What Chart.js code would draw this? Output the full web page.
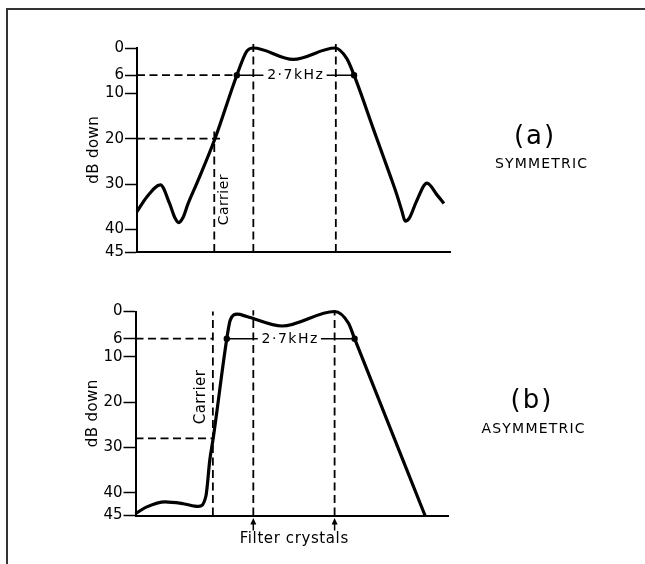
<!DOCTYPE html>
<html>
<head>
<meta charset="utf-8">
<script src="https://cdn.jsdelivr.net/npm/chart.js@4.4.0/dist/chart.umd.min.js"></script>
<style>
    html, body { margin: 0; padding: 0; background: #fff; }
    body { width: 645px; height: 564px; position: relative; overflow: hidden; }
    #frame { position: absolute; left: 6px; top: 8px; width: 700px; height: 600px; border-left: 2px solid #333; border-top: 2px solid #333; }
    canvas { position: absolute; left: 0; }
    #symmetric { top: 0; }
    #asymmetric { top: 263px; }
</style>
</head>
<body>
<div id="frame"></div>
<canvas id="symmetric" width="645" height="263"></canvas>
<canvas id="asymmetric" width="645" height="301"></canvas>
<script>
// attenuation axis, dB below the passband peak
var dbTicks = [0, 6, 10, 20, 30, 40, 45]

// (a) symmetric response, frequency in kHz from the left edge of the plot
var symFreq = [0, 0.23, 0.54, 0.75, 0.87, 0.96, 1.06, 1.17, 1.38, 1.80, 2.30, 2.53, 2.68, 3.60, 4.56, 4.83, 5.00, 5.45, 5.83, 6.00, 6.10, 6.18, 6.28, 6.43, 6.68, 6.91, 7.07]
var symLoss = [36.1, 32.8, 30.2, 34.3, 37.4, 38.5, 37.4, 34.5, 29.8, 19.9, 6, 0.7, 0, 2.5, 0, 2.3, 6, 18.0, 28.1, 32.8, 35.9, 38.2, 37.4, 34.0, 29.8, 32.4, 34.3]
var symCarrier = 1.78
var symCarrierLevel = [20, 1.96]     // dB, end of the dashed guide
var symCarrierTop = 18
var symCrystals = [2.68, 4.58]
var symSixDb = [2.30, 5.00]

// (b) asymmetric response
var asymFreq = [0, 0.26, 0.68, 1.10, 1.45, 1.62, 1.71, 1.79, 2.10, 2.18, 2.34, 2.56, 3.37, 4.58, 4.90, 5.04, 6.66]
var asymLoss = [44.6, 43.1, 42.0, 42.4, 43.0, 40.7, 32.7, 27.8, 6, 1.9, 0.6, 1.1, 3.2, 0, 2.6, 6, 45]
var asymCarrier = 1.78
var asymCarrierLevel = [28, 1.78]
var asymCarrierTop = 0
var asymCrystals = [2.71, 4.58]
var asymSixDb = [2.10, 5.04]

var FONT = 'DejaVu Sans'

function pts(xs, ys) {
    return xs.map(function(x, i) { return { x: x, y: ys[i] } })
}

function seg(x1, y1, x2, y2) {
    return [{ x: x1, y: y1 }, { x: x2, y: y2 }]
}

function dashed(data) {
    return {
        data: data, borderColor: '#000', borderWidth: 1.8, borderDash: [8, 4.5],
        pointRadius: 0, clip: false, tension: 0, order: 3
    }
}

function curve(data) {
    return {
        data: data, borderColor: '#000', borderWidth: 3.2, pointRadius: 0,
        cubicInterpolationMode: 'monotone', clip: false, order: 0
    }
}

function bandwidth(data) {
    return {
        data: data, borderColor: '#000', borderWidth: 1.6, pointRadius: 3.2,
        pointBackgroundColor: '#000', pointBorderWidth: 0, clip: false, order: 1
    }
}

function spaced(ctx, text, x, y, spacing) {
    ctx.letterSpacing = spacing + 'px'
    ctx.fillText(text, x + spacing / 2, y)
    ctx.letterSpacing = '0px'
}

// labels, arrows and the gap in the 6 dB line
var notes = {
    id: 'notes',
    afterDatasetsDraw: function(chart, args, o) {
        var ctx = chart.ctx, sx = chart.scales.x, sy = chart.scales.y, area = chart.chartArea
        ctx.save()
        ctx.fillStyle = '#000'
        ctx.strokeStyle = '#000'
        ctx.textAlign = 'center'
        ctx.textBaseline = 'middle'

        // 2.7 kHz bandwidth label
        var bx = sx.getPixelForValue(o.bandwidthAt.x), by = sy.getPixelForValue(o.bandwidthAt.y)
        ctx.font = '14px "' + FONT + '"'
        ctx.letterSpacing = '1.5px'
        var w = ctx.measureText('2·7kHz').width
        ctx.letterSpacing = '0px'
        ctx.fillStyle = '#fff'
        ctx.fillRect(bx - w / 2 - 3, by - 7, w + 6, 14)
        ctx.fillStyle = '#000'
        spaced(ctx, '2·7kHz', bx, by + 0.5, 1.5)

        // Carrier
        ctx.save()
        ctx.translate(sx.getPixelForValue(o.carrierAt.x), sy.getPixelForValue(o.carrierAt.y))
        ctx.rotate(-Math.PI / 2)
        ctx.font = o.carrierSize + 'px "' + FONT + '"'
        spaced(ctx, 'Carrier', 0, 0, 0.5)
        ctx.restore()

        // axis title
        ctx.save()
        ctx.translate(area.left - 42.5, (area.top + area.bottom) / 2)
        ctx.rotate(-Math.PI / 2)
        ctx.font = '15px "' + FONT + '"'
        spaced(ctx, 'dB down', 0, 0, 0.4)
        ctx.restore()

        // panel tag and name
        ctx.font = '26px "' + FONT + '"'
        spaced(ctx, o.tag, o.tagAt.x, o.tagAt.y, 2)
        ctx.font = '14px "' + FONT + '"'
        spaced(ctx, o.name, o.nameAt.x, o.nameAt.y, 1.2)

        // crystal arrows below the axis
        if (o.arrows) {
            var xs = o.arrows.map(function(c) { return sx.getPixelForValue(c) })
            ctx.lineWidth = 1.5
            xs.forEach(function(px) {
                ctx.beginPath()
                ctx.moveTo(px, area.bottom + 2.5)
                ctx.lineTo(px - 3, area.bottom + 9)
                ctx.lineTo(px + 3, area.bottom + 9)
                ctx.closePath()
                ctx.fill()
                ctx.beginPath()
                ctx.moveTo(px, area.bottom + 8)
                ctx.lineTo(px, area.bottom + 15)
                ctx.stroke()
            })
            ctx.font = '15px "' + FONT + '"'
            spaced(ctx, 'Filter crystals', (xs[0] + xs[1]) / 2, area.bottom + 24, 0.6)
        }
        ctx.restore()
    }
}

function makeChart(id, datasets, xMax, padding, yWidth, noteOpts) {
    return new Chart(document.getElementById(id), {
        type: 'line',
        data: { datasets: datasets },
        options: {
            responsive: false,
            animation: false,
            events: [],
            layout: { padding: padding },
            plugins: {
                legend: { display: false },
                tooltip: { enabled: false },
                notes: noteOpts
            },
            scales: {
                x: {
                    type: 'linear', min: 0, max: xMax,
                    ticks: { display: false },
                    grid: { display: false, drawTicks: false },
                    border: { display: true, color: '#000', width: 2 },
                    afterFit: function(s) { s.height = 0 }
                },
                y: {
                    type: 'linear', min: 0, max: 45, reverse: true,
                    afterBuildTicks: function(s) {
                        s.ticks = dbTicks.map(function(v) { return { value: v } })
                    },
                    ticks: { color: '#000', padding: 1, font: { family: FONT, size: 15 } },
                    grid: { display: true, drawOnChartArea: false, drawTicks: true, tickLength: 12, tickColor: '#000', tickWidth: 1.5 },
                    border: { display: true, color: '#000', width: 2 },
                    afterFit: function(s) { s.width = yWidth }
                }
            }
        },
        plugins: [notes]
    })
}

// (a) symmetric
makeChart('symmetric', [
    curve(pts(symFreq, symLoss)),
    bandwidth(seg(symSixDb[0], 6, symSixDb[1], 6)),
    dashed(seg(0, 6, symSixDb[0], 6)),
    dashed(seg(0, symCarrierLevel[0], symCarrierLevel[1], symCarrierLevel[0])),
    dashed(seg(symCarrier, 45, symCarrier, symCarrierTop)),
    dashed(seg(symCrystals[0], 45, symCrystals[0], -1)),
    dashed(seg(symCrystals[1], 45, symCrystals[1], -1))
], 7.21, { left: 67, top: 48, right: 195, bottom: 11 }, 70, {
    bandwidthAt: { x: 3.64, y: 6 },
    carrierAt: { x: 2.02, y: 33.5 }, carrierSize: 14,
    tag: '(a)', tagAt: { x: 534, y: 137 },
    name: 'SYMMETRIC', nameAt: { x: 541, y: 164 },
    arrows: null
})

// (b) asymmetric
makeChart('asymmetric', [
    curve(pts(asymFreq, asymLoss)),
    bandwidth(seg(asymSixDb[0], 6, asymSixDb[1], 6)),
    dashed(seg(0, 6, asymCarrier, 6)),
    dashed(seg(0, asymCarrierLevel[0], asymCarrierLevel[1], asymCarrierLevel[0])),
    dashed(seg(asymCarrier, 45, asymCarrier, asymCarrierTop)),
    dashed(seg(asymCrystals[0], 45, asymCrystals[0], -0.3)),
    dashed(seg(asymCrystals[1], 45, asymCrystals[1], -0.3))
], 7.20, { left: 65.5, top: 48.5, right: 196.5, bottom: 48.5 }, 70, {
    bandwidthAt: { x: 3.54, y: 6 },
    carrierAt: { x: 1.52, y: 18.9 }, carrierSize: 15,
    tag: '(b)', tagAt: { x: 531, y: 138 },
    name: 'ASYMMETRIC', nameAt: { x: 533, y: 166 },
    arrows: asymCrystals
})
</script>
</body>
</html>
